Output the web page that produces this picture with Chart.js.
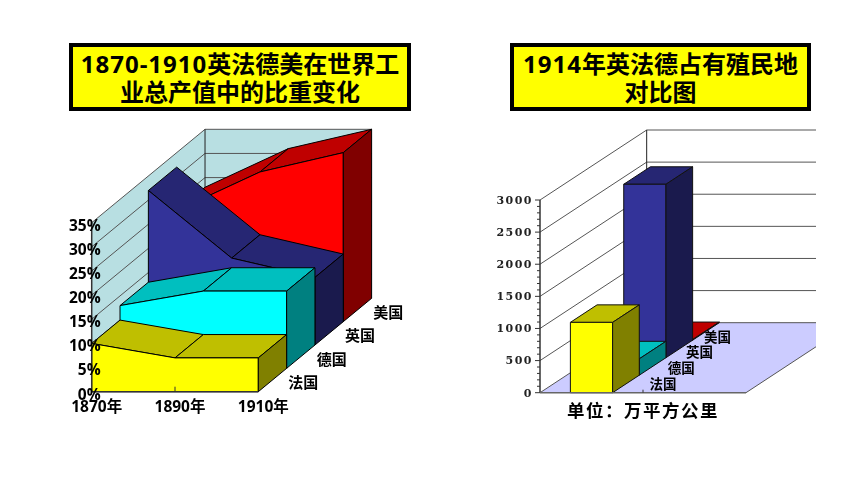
<!DOCTYPE html>
<html>
<head>
<meta charset="UTF-8">
<title>英法德美对比图</title>
<script src="https://cdn.jsdelivr.net/npm/chart.js@4/dist/chart.umd.js"></script>
<style>
    body { margin: 0; background: #fff; }
    #page { position: relative; width: 860px; height: 484px; overflow: hidden; }
    canvas { position: absolute; top: 0; }
    .title {
        position: absolute; box-sizing: border-box; top: 43px; height: 68px;
        background: #ff0; border: 4px solid #000; text-align: center; color: #000;
        font: bold 24px/28px "Open Sans", "Noto Sans CJK SC", sans-serif; padding-top: 3px;
    }
    .title span { letter-spacing: 1px; }
</style>
</head>
<body>
<div id="page">
    <div class="title" style="left:69px;width:342px"><span>1870-1910</span>英法德美在世界工<br>业总产值中的比重变化</div>
    <div class="title" style="left:510px;width:301px"><span>1914</span>年英法德占有殖民地<br>对比图</div>
    <canvas id="wykres1" width="430" height="484" style="left:0"></canvas>
    <canvas id="wykres2" width="430" height="484" style="left:430px"></canvas>
</div>

<script>
    const countries = ['法国', '德国', '英国', '美国'];

    // share of world industrial output, %
    const years = ['1870年', '1890年', '1910年'];
    const shareFrance = [10, 7, 7];
    const shareGermany = [13, 16, 16];
    const shareBritain = [32, 18, 14];
    const shareAmerica = [23, 31, 35];

    // colonies 1914, 10k km2 (second category is empty in the original)
    const colonyCategories = ['', ''];
    const colonyFrance = [1095];
    const colonyGermany = [255];
    const colonyBritain = [2700];
    const colonyAmerica = [10];

    const frontColors = ['#ffff00', '#00ffff', '#333399', '#ff0000'];
    const topColors = ['#bfbf00', '#00bfbf', '#262673', '#bf0000'];
    const sideColors = ['#808000', '#008080', '#1a1a4d', '#800000'];

    const labelFont = '"Open Sans", "Noto Sans CJK SC", sans-serif';

    function poly(ctx, pts, fill, stroke) {
        ctx.beginPath();
        pts.forEach((p, i) => i ? ctx.lineTo(p[0], p[1]) : ctx.moveTo(p[0], p[1]));
        ctx.closePath();
        ctx.fillStyle = fill;
        ctx.fill();
        if (stroke) {
            ctx.strokeStyle = stroke;
            ctx.lineWidth = 1;
            ctx.stroke();
        }
    }

    function seg(ctx, x1, y1, x2, y2, color, width) {
        ctx.beginPath();
        ctx.moveTo(x1, y1);
        ctx.lineTo(x2, y2);
        ctx.strokeStyle = color;
        ctx.lineWidth = width || 1;
        ctx.stroke();
    }

    // walls, floor and grid, same for both charts
    function drawRoom(chart) {
        const o = chart.options.plugins.room;
        const ctx = chart.ctx, a = chart.chartArea, yScale = chart.scales.y;
        const dx = o.stepX * 4, dy = o.stepY * 4;
        ctx.save();
        ctx.letterSpacing = '0px';
        ctx.beginPath();
        ctx.rect(0, 0, o.cropRight || chart.width, chart.height);
        ctx.clip();
        const backL = a.left + dx, backR = a.right + dx;
        if (o.wall) {
            poly(ctx, [[a.left, a.bottom], [a.left, a.top], [backL, a.top - dy], [backL, a.bottom - dy]], o.wall);
            poly(ctx, [[backL, a.top - dy], [backR, a.top - dy], [backR, a.bottom - dy], [backL, a.bottom - dy]], o.wall);
        }
        if (o.floor) {
            poly(ctx, [[a.left, a.bottom], [a.right, a.bottom], [backR, a.bottom - dy], [backL, a.bottom - dy]], o.floor);
        }
        yScale.ticks.forEach(t => {
            if (t.value % o.gridEvery) return;
            const y = yScale.getPixelForValue(t.value);
            seg(ctx, a.left, y, backL, y - dy, o.grid);
            seg(ctx, backL, y - dy, backR, y - dy, o.grid);
        });
        seg(ctx, backL, a.top - dy, backL, a.bottom - dy, '#222');
        ctx.restore();
    }

    function depthLabels(chart) {
        const o = chart.options.plugins.room;
        const ctx = chart.ctx, a = chart.chartArea;
        ctx.save();
        ctx.letterSpacing = '0px';
        ctx.font = 'bold ' + o.depthFontSize + 'px ' + labelFont;
        ctx.fillStyle = '#000';
        ctx.textAlign = 'center';
        ctx.textBaseline = 'middle';
        countries.forEach((name, i) => {
            ctx.fillText(name, a.right + o.labelX + i * o.labelStepX, a.bottom + o.labelY - i * o.labelStepY);
        });
        ctx.restore();
    }

    const areaPlugin = {
        id: 'area3d',
        beforeDatasetsDraw: drawRoom,
        beforeDatasetDraw(chart, args) {
            const o = chart.options.plugins.room;
            const ctx = chart.ctx, i = args.index;
            const base = chart.scales.y.getPixelForValue(0) - i * o.stepY;
            const pts = args.meta.data.map(p => [p.x + i * o.stepX, p.y - i * o.stepY]);
            for (let k = 0; k < pts.length - 1; k++) {
                poly(ctx, [pts[k], pts[k + 1],
                    [pts[k + 1][0] + o.stepX, pts[k + 1][1] - o.stepY],
                    [pts[k][0] + o.stepX, pts[k][1] - o.stepY]], topColors[i], '#000');
            }
            const first = pts[0], last = pts[pts.length - 1];
            poly(ctx, [[first[0], base], ...pts, [last[0], base]], frontColors[i], '#000');
            poly(ctx, [last, [last[0], base], [last[0] + o.stepX, base - o.stepY],
                [last[0] + o.stepX, last[1] - o.stepY]], sideColors[i], '#000');
            return false;
        },
        afterDatasetsDraw(chart) {
            const a = chart.chartArea, ctx = chart.ctx;
            seg(ctx, a.left, a.top, a.left, a.bottom, '#333', 1.5);
            seg(ctx, a.left, a.bottom, a.right, a.bottom, '#333', 1.5);
            const mid = chart.scales.x.getPixelForValue(1);
            seg(ctx, mid, a.bottom - 5, mid, a.bottom, '#333');
            depthLabels(chart);
        }
    };

    const barPlugin = {
        id: 'bar3d',
        beforeDraw(chart) {
            chart.ctx.letterSpacing = '1.5px';
        },
        beforeDatasetsDraw: drawRoom,
        beforeDatasetDraw(chart, args) {
            const o = chart.options.plugins.room;
            const ctx = chart.ctx, i = args.index;
            const sx = i * o.stepX, sy = i * o.stepY;
            args.meta.data.forEach(b => {
                const l = b.x - b.width / 2 + sx, r = b.x + b.width / 2 + sx;
                const t = b.y - sy, f = b.base - sy;
                poly(ctx, [[l, t], [r, t], [r + o.stepX, t - o.stepY], [l + o.stepX, t - o.stepY]], topColors[i], '#111');
                poly(ctx, [[l, t], [r, t], [r, f], [l, f]], frontColors[i], '#111');
                poly(ctx, [[r, t], [r, f], [r + o.stepX, f - o.stepY], [r + o.stepX, t - o.stepY]], sideColors[i], '#111');
            });
            return false;
        },
        afterDatasetsDraw(chart) {
            const a = chart.chartArea, ctx = chart.ctx, yScale = chart.scales.y;
            const o = chart.options.plugins.room;
            seg(ctx, a.left, a.top, a.left, a.bottom, '#333', 1.5);
            seg(ctx, a.left, a.bottom, a.right, a.bottom, '#666', 1.5);
            const backRx = a.right + o.stepX * 4, backRy = a.bottom - o.stepY * 4;
            ctx.save();
            ctx.beginPath();
            ctx.rect(0, 0, o.cropRight, chart.height);
            ctx.clip();
            seg(ctx, a.right, a.bottom, backRx, backRy, '#555');
            ctx.restore();
            yScale.ticks.forEach(t => {
                const y = yScale.getPixelForValue(t.value);
                seg(ctx, a.left - (t.value % 500 ? 3 : 5), y, a.left, y, '#333');
            });
            const mid = (a.left + a.right) / 2;
            seg(ctx, mid, a.bottom - 3, mid, a.bottom, '#333');
            depthLabels(chart);
        }
    };

    // scale boxes are zero sized here, the chart area is pinned by layout padding,
    // so the label clip box has to go too
    function pinScale(s) {
        s.paddingLeft = s.paddingRight = s.paddingTop = s.paddingBottom = 0;
        s._computeLabelArea = () => undefined;
    }

    new Chart(document.getElementById('wykres1'), {
        type: 'line',
        plugins: [areaPlugin],
        data: {
            labels: years,
            datasets: [
                {label: countries[0], data: shareFrance},
                {label: countries[1], data: shareGermany},
                {label: countries[2], data: shareBritain},
                {label: countries[3], data: shareAmerica}
            ]
        },
        options: {
            responsive: false,
            animation: false,
            events: [],
            layout: {padding: {left: 91.7, right: 171.7, top: 222.7, bottom: 92.3}},
            plugins: {
                legend: {display: false},
                tooltip: {enabled: false},
                room: {
                    stepX: 28.33, stepY: 23.35, wall: '#b8dfe2', grid: '#555', gridEvery: 5,
                    depthFontSize: 15, labelX: 45, labelY: -8, labelStepX: 28.33, labelStepY: 23.35
                }
            },
            scales: {
                x: {
                    grid: {display: false, drawTicks: false},
                    border: {display: false},
                    ticks: {
                        autoSkip: false, maxRotation: 0, padding: 7, labelOffset: 5, z: 1,
                        color: '#000', font: {family: labelFont, size: 15.5, weight: 'bold'}
                    },
                    afterFit(s) { s.height = 0; pinScale(s); }
                },
                y: {
                    min: 0, max: 35,
                    grid: {display: false, drawTicks: false},
                    border: {display: false},
                    ticks: {
                        stepSize: 5, padding: -9, labelOffset: 3.5, z: 1,
                        color: '#000', font: {family: labelFont, size: 15.5, weight: 'bold'},
                        callback: v => v + '%'
                    },
                    afterFit(s) { s.width = 0; pinScale(s); }
                }
            }
        }
    });

    new Chart(document.getElementById('wykres2'), {
        type: 'bar',
        plugins: [barPlugin],
        data: {
            labels: colonyCategories,
            datasets: [
                {label: countries[0], data: colonyFrance},
                {label: countries[1], data: colonyGermany},
                {label: countries[2], data: colonyBritain},
                {label: countries[3], data: colonyAmerica}
            ]
        },
        options: {
            responsive: false,
            animation: false,
            events: [],
            layout: {padding: {left: 110, right: 114, top: 200, bottom: 61.3}},
            datasets: {bar: {grouped: false, barPercentage: 1, categoryPercentage: 0.41}},
            plugins: {
                legend: {display: false},
                tooltip: {enabled: false},
                room: {
                    stepX: 26.67, stepY: 17.5, floor: '#ccccff', grid: '#555', gridEvery: 500,
                    cropRight: 386, depthFontSize: 13.5, labelX: -83, labelY: -7.7,
                    labelStepX: 18.2, labelStepY: 15.7
                }
            },
            scales: {
                x: {
                    grid: {display: false, drawTicks: false},
                    border: {display: false},
                    ticks: {display: false},
                    title: {
                        display: true, text: '单位：万平方公里', color: '#000', padding: 0,
                        font: {family: labelFont, size: 17.5, weight: 'bold'}
                    },
                    afterFit(s) { s.height = 30; pinScale(s); }
                },
                y: {
                    min: 0, max: 3000,
                    grid: {display: false, drawTicks: false},
                    border: {display: false},
                    ticks: {
                        stepSize: 100, autoSkip: false, padding: 7, labelOffset: 1, color: '#222',
                        font: {family: '"DejaVu Serif", serif', size: 11, weight: 'bold'},
                        callback: v => v % 500 ? '' : String(v)
                    },
                    afterFit(s) { s.width = 0; pinScale(s); }
                }
            }
        }
    });
</script>
</body>
</html>
